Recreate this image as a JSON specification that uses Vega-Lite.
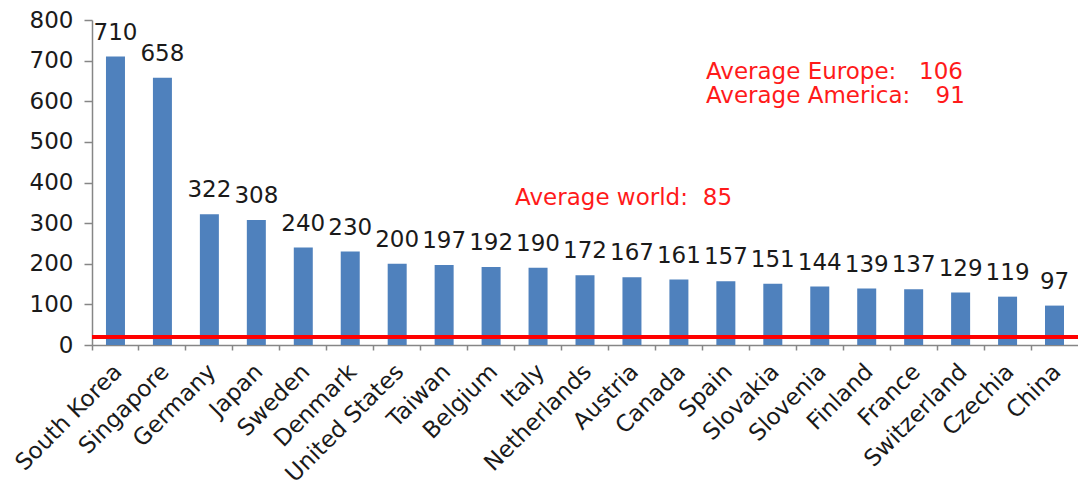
{
  "$schema": "https://vega.github.io/schema/vega-lite/v6.json",
  "autosize": {"type": "none"},
  "padding": {"left": 92, "top": 20, "right": 0, "bottom": 142},
  "width": 986,
  "height": 325,
  "background": "white",
  "config": {
    "view": {"stroke": null},
    "font": "DejaVu Sans",
    "axis": {
      "labelFont": "DejaVu Sans",
      "labelFontSize": 23,
      "labelColor": "#1a1a1a",
      "domainColor": "#868686",
      "tickColor": "#868686",
      "domainWidth": 1.5,
      "tickWidth": 1.5,
      "grid": false,
      "title": null
    }
  },
  "datasets": {
    "robots": [
      {"country": "South Korea", "density": 710},
      {"country": "Singapore", "density": 658},
      {"country": "Germany", "density": 322},
      {"country": "Japan", "density": 308},
      {"country": "Sweden", "density": 240},
      {"country": "Denmark", "density": 230},
      {"country": "United States", "density": 200},
      {"country": "Taiwan", "density": 197},
      {"country": "Belgium", "density": 192},
      {"country": "Italy", "density": 190},
      {"country": "Netherlands", "density": 172},
      {"country": "Austria", "density": 167},
      {"country": "Canada", "density": 161},
      {"country": "Spain", "density": 157},
      {"country": "Slovakia", "density": 151},
      {"country": "Slovenia", "density": 144},
      {"country": "Finland", "density": 139},
      {"country": "France", "density": 137},
      {"country": "Switzerland", "density": 129},
      {"country": "Czechia", "density": 119},
      {"country": "China", "density": 97}
    ]
  },
  "layer": [
    {
      "data": {"name": "robots"},
      "encoding": {
        "x": {
          "field": "country",
          "type": "nominal",
          "scale": {
            "domain": ["South Korea", "Singapore", "Germany", "Japan", "Sweden", "Denmark", "United States", "Taiwan", "Belgium", "Italy", "Netherlands", "Austria", "Canada", "Spain", "Slovakia", "Slovenia", "Finland", "France", "Switzerland", "Czechia", "China"],
            "paddingInner": 0,
            "paddingOuter": 0
          },
          "axis": {
            "labelAngle": -45,
            "labelAlign": "right",
            "labelBaseline": "top",
            "labelPadding": 10,
            "labelOffset": -5,
            "tickSize": 5,
            "bandPosition": 0
          }
        },
        "y": {
          "field": "density",
          "type": "quantitative",
          "scale": {"domain": [0, 800], "nice": false},
          "axis": {
            "values": [0, 100, 200, 300, 400, 500, 600, 700, 800],
            "tickSize": 8,
            "labelPadding": 11
          }
        }
      },
      "layer": [
        {"mark": {"type": "bar", "color": "#4f81bd", "size": 19}},
        {
          "mark": {"type": "text", "baseline": "alphabetic", "dy": -17, "fontSize": 23, "color": "#1a1a1a"},
          "encoding": {"text": {"field": "density", "type": "quantitative"}}
        }
      ]
    },
    {
      "data": {"values": [{"line": "reference"}]},
      "mark": {"type": "rule", "color": "#ff0000", "strokeWidth": 4, "x2Offset": -9},
      "encoding": {"y": {"datum": 20, "type": "quantitative"}}
    },
    {
      "data": {"values": [{"label": "Average Europe:", "avg": 106}]},
      "encoding": {"x": {"datum": "Canada", "type": "nominal"}, "y": {"datum": 656, "type": "quantitative"}},
      "layer": [
        {
          "mark": {"type": "text", "align": "left", "baseline": "alphabetic", "dx": 27, "fontSize": 23, "color": "#ff1a1a"},
          "encoding": {"text": {"field": "label"}}
        },
        {
          "mark": {"type": "text", "align": "right", "baseline": "alphabetic", "dx": 284, "fontSize": 23, "color": "#ff1a1a"},
          "encoding": {"text": {"field": "avg", "type": "quantitative"}}
        }
      ]
    },
    {
      "data": {"values": [{"label": "Average America:", "avg": 91}]},
      "encoding": {"x": {"datum": "Canada", "type": "nominal"}, "y": {"datum": 596, "type": "quantitative"}},
      "layer": [
        {
          "mark": {"type": "text", "align": "left", "baseline": "alphabetic", "dx": 27, "fontSize": 23, "color": "#ff1a1a"},
          "encoding": {"text": {"field": "label"}}
        },
        {
          "mark": {"type": "text", "align": "right", "baseline": "alphabetic", "dx": 286, "fontSize": 23, "color": "#ff1a1a"},
          "encoding": {"text": {"field": "avg", "type": "quantitative"}}
        }
      ]
    },
    {
      "data": {"values": [{"label": "Average world:", "avg": 85}]},
      "encoding": {"x": {"datum": "Belgium", "type": "nominal"}, "y": {"datum": 345, "type": "quantitative"}},
      "layer": [
        {
          "mark": {"type": "text", "align": "left", "baseline": "alphabetic", "dx": 24, "fontSize": 23, "color": "#ff1a1a"},
          "encoding": {"text": {"field": "label"}}
        },
        {
          "mark": {"type": "text", "align": "right", "baseline": "alphabetic", "dx": 241, "fontSize": 23, "color": "#ff1a1a"},
          "encoding": {"text": {"field": "avg", "type": "quantitative"}}
        }
      ]
    }
  ]
}
